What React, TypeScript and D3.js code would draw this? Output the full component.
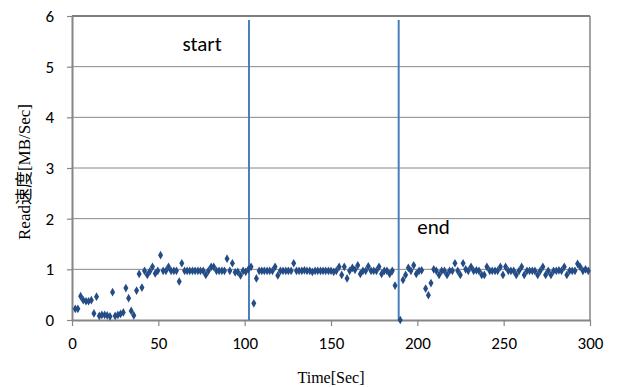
import { useEffect, useRef } from "react";
import * as d3 from "d3";

// sample time [s]
const timeSec = [
  1.9, 3.4, 5.0, 6.5, 8.1, 9.6, 11.2, 12.7, 14.2, 15.8, 17.3, 18.9, 20.4, 22.0, 23.5, 25.0,
  26.6, 28.1, 29.7, 31.2, 32.8, 34.3, 35.8, 37.4, 38.9, 40.5, 42.0, 43.6, 45.1, 46.6, 48.2, 49.7,
  51.3, 52.8, 54.4, 55.9, 57.4, 59.0, 60.5, 62.1, 63.6, 65.2, 66.7, 68.2, 69.8, 71.3, 72.9, 74.4,
  76.0, 77.5, 79.0, 80.6, 82.1, 83.7, 85.2, 86.8, 88.3, 89.8, 91.4, 92.9, 94.5, 96.0, 97.6, 99.1,
  100.6, 102.2, 103.7, 105.3, 106.8, 108.4, 109.9, 111.4, 113.0, 114.5, 116.1, 117.6, 119.2, 120.7,
  122.2, 123.8, 125.3, 126.9, 128.4, 130.0, 131.5, 133.1, 134.6, 136.1, 137.7, 139.2, 140.8, 142.3,
  143.9, 145.4, 146.9, 148.5, 150.0, 151.6, 153.1, 154.7, 156.2, 157.7, 159.3, 160.8, 162.4, 163.9,
  165.5, 167.0, 168.5, 170.1, 171.6, 173.2, 174.7, 176.3, 177.8, 179.3, 180.9, 182.4, 184.0, 185.5,
  187.1, 190.1, 191.7, 193.2, 194.8, 196.3, 197.9, 199.4, 201.0, 202.5, 204.8, 206.4, 207.9, 209.5,
  211.0, 212.6, 214.1, 215.7, 217.2, 218.7, 220.3, 221.8, 223.4, 224.9, 226.5, 228.0, 229.5, 231.1,
  232.6, 234.2, 235.7, 237.3, 238.8, 240.3, 241.9, 243.4, 245.0, 246.5, 248.1, 249.6, 251.1, 252.7,
  254.2, 255.8, 257.3, 258.9, 260.4, 261.9, 263.5, 265.0, 266.6, 268.1, 269.7, 271.2, 272.7, 274.3,
  275.8, 277.4, 278.9, 280.5, 282.0, 283.5, 285.1, 286.6, 288.2, 289.7, 291.3, 292.8, 294.3, 295.9,
  297.4, 299.0,
];

// read speed [MB/Sec]
const readSpeed = [
  0.22, 0.22, 0.47, 0.39, 0.37, 0.37, 0.39, 0.13, 0.46, 0.08, 0.1, 0.1, 0.09, 0.07, 0.55, 0.08,
  0.1, 0.12, 0.15, 0.63, 0.43, 0.18, 0.09, 0.58, 0.91, 0.64, 0.97, 0.89, 0.96, 1.05, 0.92, 0.97,
  1.28, 0.97, 0.97, 1.05, 0.97, 0.97, 0.97, 0.76, 1.12, 0.97, 0.97, 0.97, 0.97, 0.97, 0.97, 0.97,
  0.97, 0.89, 0.97, 1.05, 1.05, 0.97, 0.97, 0.97, 0.97, 1.21, 0.97, 1.12, 0.94, 0.95, 0.88, 0.97,
  0.95, 1.0, 1.05, 0.33, 0.82, 0.97, 0.97, 0.97, 0.97, 0.97, 0.97, 1.05, 0.88, 0.97,
  0.97, 0.97, 0.97, 0.97, 1.12, 0.97, 0.97, 0.97, 0.98, 0.97, 0.97, 0.95, 0.97, 0.97,
  0.97, 0.97, 0.97, 0.97, 0.97, 0.95, 0.97, 1.05, 0.89, 1.05, 0.82, 0.97, 1.03, 0.99,
  1.08, 0.91, 0.97, 0.97, 1.06, 0.97, 0.97, 0.97, 1.05, 0.91, 0.97, 0.97, 0.91, 0.97,
  0.68, 0.0, 0.79, 0.89, 1.03, 0.97, 1.08, 0.91, 0.97, 0.98, 0.62, 0.49, 0.73, 1.0,
  0.97, 0.89, 0.97, 0.97, 0.89, 0.97, 0.97, 1.12, 0.97, 0.89, 1.12, 1.0, 0.97, 1.05,
  0.97, 0.98, 0.97, 0.89, 0.89, 1.05, 0.97, 0.97, 0.97, 0.97, 1.05, 0.89, 1.05, 0.97,
  0.97, 0.97, 0.89, 0.97, 1.05, 0.89, 0.97, 0.97, 0.97, 0.97, 0.89, 0.97, 1.05, 0.89,
  0.97, 0.89, 0.97, 0.97, 0.98, 0.97, 1.05, 0.89, 0.97, 0.97, 0.97, 1.11, 1.05, 0.97,
  1.0, 0.97,
];

const markers = [
  { label: "start", time: 102.5, labelX: 64, labelY: 5.3 },
  { label: "end", time: 189.2, labelX: 200, labelY: 1.7 },
];

const xTicks = [0, 50, 100, 150, 200, 250, 300];
const yTicks = [0, 1, 2, 3, 4, 5, 6];

const App = () => {
  const ref = useRef<SVGSVGElement>(null);

  useEffect(() => {
    const width = 619;
    const height = 387;
    const margin = { top: 16, right: 29, bottom: 67, left: 72 };

    const svg = d3.select(ref.current)
      .attr("width", width)
      .attr("height", height)
      .style("display", "block")
      .style("position", "absolute")
      .style("left", 0)
      .style("top", 0);
    svg.selectAll("*").remove();

    const x = d3.scaleLinear()
      .domain([0, 300])
      .range([margin.left, width - margin.right]);

    const y = d3.scaleLinear()
      .domain([0, 6])
      .range([height - margin.bottom, margin.top]);

    const labelFont = "Carlito, 'Open Sans', 'Liberation Sans', sans-serif";

    // gridlines
    svg.append("g")
      .selectAll("line")
      .data(yTicks.filter(d => d > 0 && d < 6))
      .join("line")
      .attr("x1", x(0))
      .attr("x2", x(300))
      .attr("y1", d => y(d))
      .attr("y2", d => y(d))
      .attr("stroke", "#868686")
      .attr("stroke-width", 1);

    // plot border: top black, right gray
    svg.append("line")
      .attr("x1", x(0)).attr("x2", x(300))
      .attr("y1", y(6)).attr("y2", y(6))
      .attr("stroke", "#000").attr("stroke-width", 1.2);
    svg.append("line")
      .attr("x1", x(300)).attr("x2", x(300))
      .attr("y1", y(6)).attr("y2", y(0))
      .attr("stroke", "#868686").attr("stroke-width", 1.5);

    // axes
    const xAxis = d3.axisBottom(x)
      .tickValues(xTicks)
      .tickSizeInner(6)
      .tickSizeOuter(0)
      .tickPadding(11);
    const gx = svg.append("g")
      .attr("transform", `translate(0,${y(0)})`)
      .call(xAxis);
    gx.select(".domain").attr("stroke", "#868686").attr("stroke-width", 2);
    gx.selectAll(".tick line").attr("stroke", "#868686").attr("stroke-width", 1.2);
    gx.selectAll("text")
      .attr("fill", "#000")
      .style("font-family", labelFont)
      .style("font-size", "17px");

    const yAxis = d3.axisLeft(y)
      .tickValues(yTicks)
      .tickFormat(d3.format("d"))
      .tickSizeInner(5)
      .tickSizeOuter(0)
      .tickPadding(13);
    const gy = svg.append("g")
      .attr("transform", `translate(${x(0)},0)`)
      .call(yAxis);
    gy.select(".domain").attr("stroke", "#868686").attr("stroke-width", 2);
    gy.selectAll(".tick line").attr("stroke", "#868686").attr("stroke-width", 1.2);
    gy.selectAll("text")
      .attr("fill", "#000")
      .style("font-family", labelFont)
      .style("font-size", "17px");

    // start / end vertical lines
    svg.append("g")
      .selectAll("line")
      .data(markers)
      .join("line")
      .attr("x1", d => x(d.time))
      .attr("x2", d => x(d.time))
      .attr("y1", y(5.92))
      .attr("y2", y(0))
      .attr("stroke", "#4A7EBB")
      .attr("stroke-width", 2);

    svg.append("g")
      .selectAll("text")
      .data(markers)
      .join("text")
      .attr("x", d => x(d.labelX))
      .attr("y", d => y(d.labelY))
      .attr("text-anchor", "start")
      .style("font-family", labelFont)
      .style("font-size", "21px")
      .text(d => d.label);

    // data points (diamond markers)
    const diamond = d3.symbol().type(d3.symbolDiamond).size(22);
    svg.append("g")
      .selectAll("path")
      .data(timeSec.map((t, i) => ({ t, v: readSpeed[i] })))
      .join("path")
      .attr("transform", d => `translate(${x(d.t)},${y(d.v)})`)
      .attr("d", diamond)
      .attr("fill", "#244C86");

    // axis titles
    svg.append("text")
      .attr("x", (x(0) + x(300)) / 2)
      .attr("y", 383)
      .attr("text-anchor", "middle")
      .style("font-family", "'Liberation Serif', 'Times New Roman', serif")
      .style("font-size", "16px")
      .text("Time[Sec]");

    svg.append("text")
      .attr("transform", `translate(30,${(y(0) + y(6)) / 2 + 4}) rotate(-90)`)
      .attr("text-anchor", "middle")
      .style("font-family", "'Liberation Serif', 'Noto Sans CJK JP', serif")
      .style("font-size", "17px")
      .text("Read速度[MB/Sec]");
  }, []);

  return <svg ref={ref} />;
};

export default App;
